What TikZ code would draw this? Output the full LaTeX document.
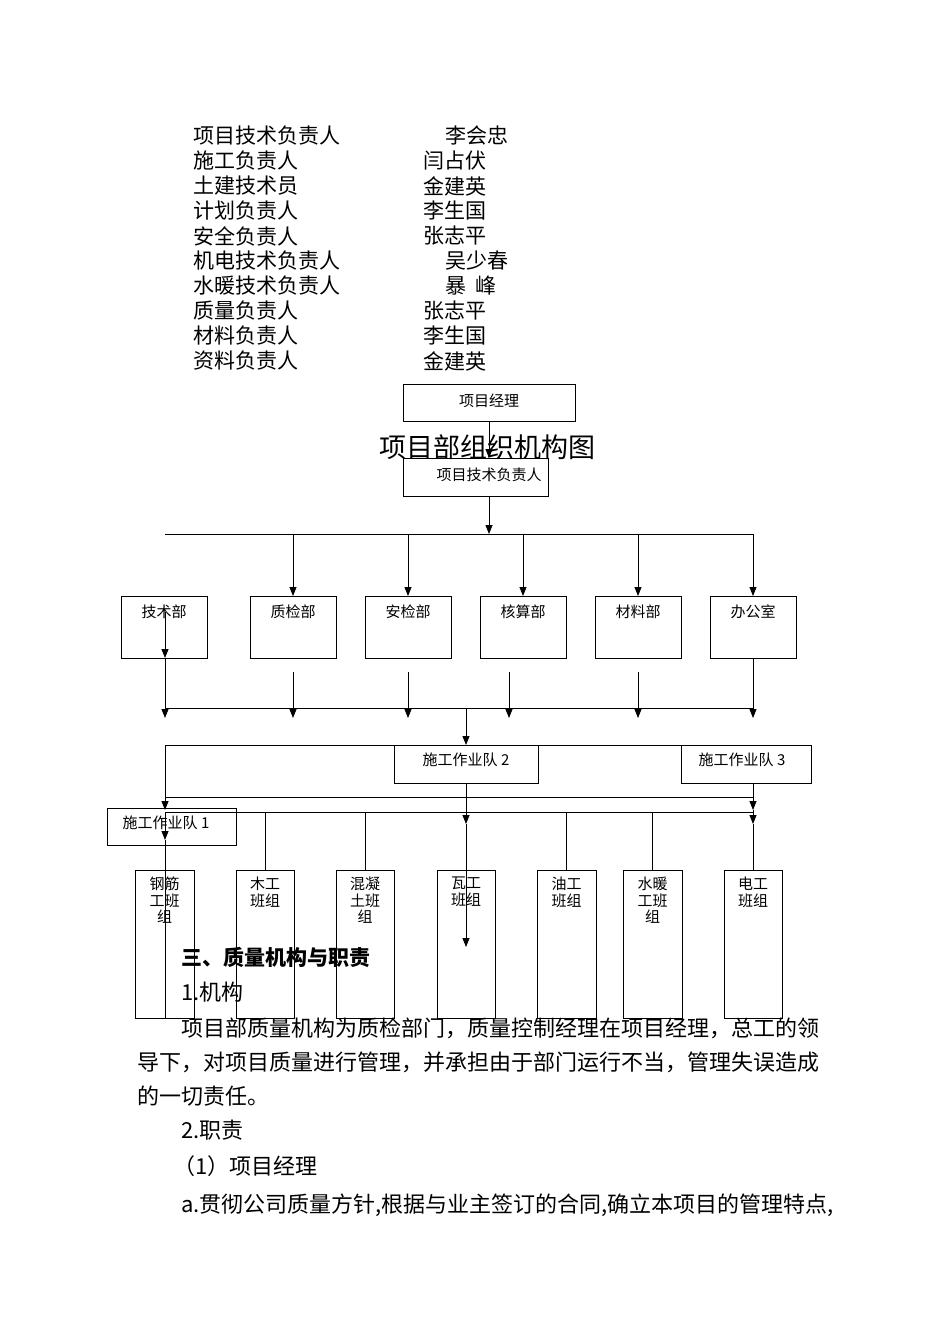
\documentclass[tikz,border=0pt]{standalone}
\usepackage{fontspec}
\setmainfont{Noto Sans CJK SC}
\usetikzlibrary{arrows.meta}
\begin{document}
\begin{tikzpicture}[x=1pt,y=-1pt,
  bx/.style={draw,line width=0.8pt},
  lab/.style={font=\fontsize{15}{16}\selectfont,inner sep=0,anchor=north},
  ln/.style={line width=0.8pt},
  ar/.style={ln,-{Triangle[length=9pt,width=7pt]}},
  txt/.style={font=\fontsize{21}{22}\selectfont,inner sep=0,anchor=west},
  body/.style={font=\fontsize{22}{22}\selectfont,inner sep=0,anchor=west}]
\useasboundingbox (0,0) rectangle (950,1344);
% top list
\foreach \a/\b/\y/\xx in {项目技术负责人/李会忠/136/445,施工负责人/闫占伏/161/423,土建技术员/金建英/186/423,计划负责人/李生国/211/423,安全负责人/张志平/236/423,机电技术负责人/吴少春/261/445,水暖技术负责人/暴\ \ 峰/286/445,质量负责人/张志平/311/423,材料负责人/李生国/336/423,资料负责人/金建英/361/423}{
  \node[txt] (l\y) at (193,\y) {\a};
  \node[txt] (r\y) at (\xx,\y) {\b};
}
% top boxes
\draw[bx] (403,384) rectangle (575,421); \node[lab] (pm) at (489,394) {项目经理};
\node[font=\fontsize{27}{27}\selectfont,inner sep=0] (title) at (487,447) {项目部组织机构图};
\draw[bx] (403,458) rectangle (548,496); \node[lab] (tech) at (489,468) {项目技术负责人};
\coordinate (a1) at (489,421); \coordinate (a2) at (489,458);
\draw[ar] (a1) -- (a2);
\coordinate (a3) at (489,496); \coordinate (a4) at (489,534);
\draw[ar] (a3) -- (a4);
\coordinate (h1a) at (165,534); \coordinate (h1b) at (753,534);
\draw[ln] (h1a) -- (h1b);
% departments
\foreach \x/\t in {121/技术部,250/质检部,365/安检部,480/核算部,595/材料部,710/办公室}{
  \draw[bx] (\x,596) rectangle ++(86,62);
  \node[lab] (d\x) at (\x+43,605) {\t};
}
\foreach \x in {293,408,523,638,753}{ \draw[ar] (\x,534) -- (\x,596); }
\draw[ar] (165,612) -- (165,658);
\draw[ar] (165,658) -- (165,718);
\foreach \x in {293,408,509,638}{ \draw[ar] (\x,672) -- (\x,718); }
\draw[ar] (753,658) -- (753,718);
\draw[ln] (165,708) -- (753,708);
\draw[ar] (466,708) -- (466,745);
% teams
\draw[bx] (394,745) rectangle (538,783); \node[lab] (t2) at (466,753) {施工作业队 2};
\draw[bx] (681,745) rectangle (811,783); \node[lab] (t3) at (742,753) {施工作业队 3};
\draw[ln] (165,745) -- (681,745);
\draw[ar] (165,745) -- (165,810);
\draw[ln] (165,797) -- (753,797);
\draw[ar] (753,783) -- (753,810);
\draw[ln] (165,812) -- (753,812);
\draw[ar] (753,810) -- (753,824);
\draw[bx] (107,808) rectangle (236,845); \node[lab] (t1) at (166,816) {施工作业队 1};
\draw[ar] (165,812) -- (165,840);
\draw[ln] (165,840) -- (165,1018);
\draw[ar] (466,783) -- (466,824);
\draw[ar] (466,824) -- (466,947);
\foreach \x in {265,365,566,652}{ \draw[ln] (\x,812) -- (\x,870); }
\draw[ln] (753,824) -- (753,870);
\foreach \x/\w/\t in {135/59/{钢筋\\工班\\组},236/58/{木工\\班组},336/58/{混凝\\土班\\组},437/58/{瓦工\\班组},537/59/{油工\\班组},623/59/{水暖\\工班\\组},724/58/{电工\\班组}}{
  \draw[bx] (\x,870) rectangle ++(\w,148);
  \node[lab,align=center,font=\fontsize{15}{16.5}\selectfont] (g\x) at (\x+\w/2,877) {\t};
}
% body text
\node[body,font=\bfseries\fontsize{21}{22}\selectfont] (s1) at (181,957) {三、质量机构与职责};
\node[body] (s2) at (181,992) {1.机构};
\node[body] (s3) at (181,1028) {项目部质量机构为质检部门，质量控制经理在项目经理，总工的领};
\node[body] (s4) at (137,1062) {导下，对项目质量进行管理，并承担由于部门运行不当，管理失误造成};
\node[body] (s5) at (137,1096) {的一切责任。};
\node[body] (s6) at (181,1130) {2.职责};
\node[body] (s7) at (173,1166) {（1）项目经理};
\node[body] (s8) at (181,1205) {a.贯彻公司质量方针,根据与业主签订的合同,确立本项目的管理特点,};
\end{tikzpicture}
\end{document}
